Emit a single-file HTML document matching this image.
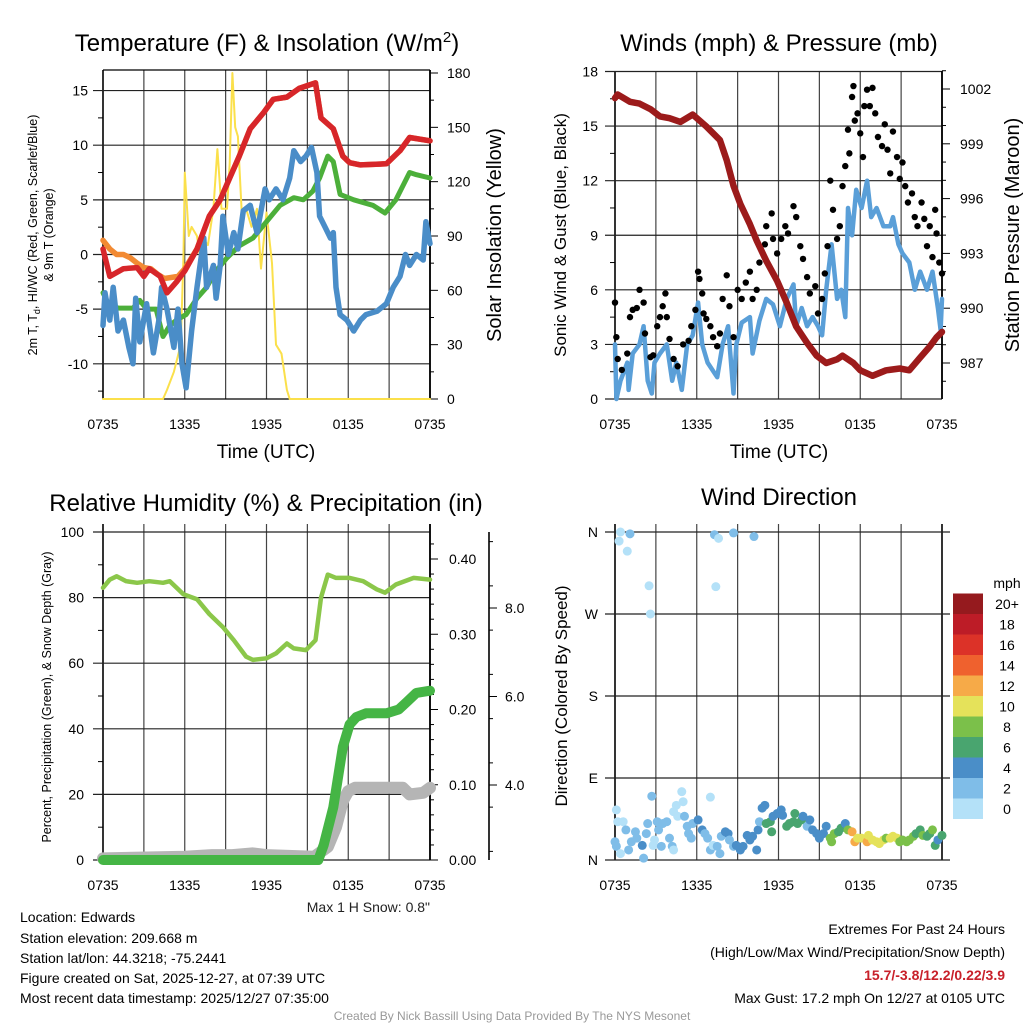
<!DOCTYPE html>
<html><head><meta charset="utf-8"><style>
html,body{margin:0;padding:0;background:#fff;}
svg{display:block;font-family:"Liberation Sans",Arial,sans-serif;}
</style></head><body>
<svg id="fig" width="1024" height="1024" viewBox="0 0 1024 1024" xmlns="http://www.w3.org/2000/svg">
<rect width="1024" height="1024" fill="#fff"/>
<text x="267" y="51" font-size="24" text-anchor="middle">Temperature (F) &amp; Insolation (W/m<tspan dy="-9" font-size="15">2</tspan><tspan dy="9">)</tspan></text>
<text x="779" y="51" font-size="24" text-anchor="middle">Winds (mph) &amp; Pressure (mb)</text>
<text x="266" y="511" font-size="24" text-anchor="middle">Relative Humidity (%) &amp; Precipitation (in)</text>
<text x="779" y="505" font-size="24" text-anchor="middle">Wind Direction</text>
<g id="p1"></g>
<g id="p2"></g>
<g id="p3"></g>
<g id="p4"></g>
<text x="266" y="458" font-size="19" text-anchor="middle">Time (UTC)</text>
<text x="779" y="458" font-size="19" text-anchor="middle">Time (UTC)</text>
<text transform="translate(37,235) rotate(-90)" font-size="12.5" text-anchor="middle">2m T, T<tspan font-size="9" dy="3">d</tspan><tspan dy="-3">, HI/WC (Red, Green, Scarlet/Blue)</tspan></text>
<text transform="translate(53,235) rotate(-90)" font-size="12.5" text-anchor="middle">&amp; 9m T (Orange)</text>
<text transform="translate(501,235) rotate(-90)" font-size="20" text-anchor="middle">Solar Insolation (Yellow)</text>
<text transform="translate(566,235) rotate(-90)" font-size="17" text-anchor="middle">Sonic Wind &amp; Gust (Blue, Black)</text>
<text transform="translate(1019,235) rotate(-90)" font-size="20" text-anchor="middle">Station Pressure (Maroon)</text>
<text transform="translate(51,697) rotate(-90)" font-size="12.5" text-anchor="middle">Percent, Precipitation (Green), &amp; Snow Depth (Gray)</text>
<text transform="translate(567,696) rotate(-90)" font-size="17" text-anchor="middle">Direction (Colored By Speed)</text>
<text x="430" y="912" font-size="14" text-anchor="end" fill="#222">Max 1 H Snow: 0.8"</text>
<g font-size="14" fill="#000">
<text x="20" y="922">Location: Edwards</text>
<text x="20" y="943">Station elevation: 209.668 m</text>
<text x="20" y="963">Station lat/lon: 44.3218; -75.2441</text>
<text x="20" y="983">Figure created on Sat, 2025-12-27, at 07:39 UTC</text>
<text x="20" y="1003">Most recent data timestamp: 2025/12/27 07:35:00</text>
</g>
<g font-size="14" text-anchor="end">
<text x="1005" y="934">Extremes For Past 24 Hours</text>
<text x="1005" y="957">(High/Low/Max Wind/Precipitation/Snow Depth)</text>
<text x="1005" y="980" fill="#c8202a" font-weight="bold">15.7/-3.8/12.2/0.22/3.9</text>
<text x="1005" y="1003">Max Gust: 17.2 mph On 12/27 at 0105 UTC</text>
</g>
<text x="512" y="1020" font-size="12" fill="#999" text-anchor="middle">Created By Nick Bassill Using Data Provided By The NYS Mesonet</text>
</svg>
<script>
// ---- Panel 1 data ----
const tRedH=[0,0.5,1.5,2.5,3,3.4,4.2,4.7,5.4,6,6.9,7.8,8.6,9.3,10,10.8,11.8,12.5,13.5,14.4,15.6,16,16.9,17.6,18.1,18.9,20.8,21.8,22.5,24];
const tRedV=[0.5,-2,-1.3,-1.2,-2,-1.3,-2,-3.5,-2.5,-1.5,0.5,3.5,5,7,9,11.5,13,14.2,14.4,15.2,15.7,12.5,11.5,9,8.4,8.2,8.3,9.5,10.7,10.4];
const tOrH=[0,0.5,1,1.5,2,2.5,3,3.5,4,4.5,5,5.5,6,6.9,7.8,8.6,9.3,10,10.8,11.8,12.5,13.5,14.4,15.6,16,16.9,17.6,18.1,18.9,20.8,21.8,22.5,24];
const tOrV=[1.3,0.5,0,0,-0.3,-0.8,-1.2,-1.3,-1.8,-2.2,-2.1,-2,-1.3,0.5,3.5,5,7,9,11.5,13,14.2,14.4,15.2,15.7,12.5,11.5,9,8.4,8.2,8.3,9.5,10.7,10.4];
const tdH=[0,0.5,1.2,2.2,2.7,3.2,3.9,4.4,4.9,5.4,6.1,6.9,7.6,8.3,9.1,10,11,12,13,14,14.7,15.4,15.9,16.5,16.9,17.4,18.4,19.8,20.7,21.5,22.5,23,24];
const tdV=[-3.5,-4.8,-4.9,-4.9,-4.2,-5,-5,-7.5,-6.5,-6,-5.5,-4,-3,-1.5,-0.3,0.8,1.5,3,4.5,5.2,5,5.8,7,9,8.5,5.5,5,4.5,3.8,5,7.5,7.3,7];
const wcH=[0,0.15,0.5,0.75,1.1,1.5,1.9,2.2,2.4,2.7,3.2,3.7,4.1,4.3,4.7,5.2,5.5,5.8,6.1,6.5,6.9,7.4,7.6,8.1,8.3,8.6,8.8,9.2,9.6,9.9,10.3,10.8,11.3,11.9,12.2,12.7,13.2,13.7,14,14.5,14.9,15.3,15.7,15.9,16.3,16.7,16.9,17.1,17.4,17.9,18.4,18.9,19.3,20.1,20.8,21.3,21.8,22.2,22.5,23,23.5,23.7,24];
const wcV=[-6.5,-3.5,-6,-3,-7,-6,-8.5,-10,-4,-8,-4.5,-9,-6,-3,-5,-8.5,-5,-10,-12.2,-7,-3,1.5,-3,-1,-4,-1,3.5,0,2,0.5,4,4.5,2,6,5,6,5,7,9.5,8.5,9,9.8,7.5,3.5,2.5,1.5,2,-3,-5.5,-6,-7,-6,-5.5,-5.2,-4.5,-3,-2,0,-1,0,-0.5,3,1];
const solH=[0,4.4,4.7,5.2,5.7,5.9,6.0,6.3,6.5,6.9,7.1,7.4,7.7,8.1,8.4,8.7,9.1,9.3,9.5,9.7,9.9,10.2,10.5,10.9,11.3,11.6,12,12.4,12.7,13.1,13.5,13.7,24];
const solV=[0,0,5,15,30,77,125,90,95,90,80,88,85,105,138,105,105,130,180,150,145,100,105,95,105,72,103,75,30,25,5,0,0];
const tempTicks=[15,10,5,0,-5,-10];
const solTicks=[0,30,60,90,120,150,180];
const timeLabels=["0735","1335","1935","0135","0735"];
// ---- Panel 2 data ----
const windH=[0,0.1,0.4,0.9,1.0,1.3,1.8,2.1,2.4,2.7,2.9,3.3,3.8,4.2,4.5,4.9,5.3,5.7,6.1,6.4,6.8,7.5,7.9,8.3,8.7,8.9,9.3,9.9,10.1,10.6,11.1,11.6,12.1,12.6,13.1,13.3,13.7,14.1,14.5,14.9,15.2,15.5,15.9,16.3,16.6,16.9,17.1,17.4,17.7,18.1,18.5,18.8,19.2,19.7,20.2,20.4,20.8,21.1,21.6,22.0,22.4,22.9,23.3,23.7,23.9,24];
const windV=[3,0,1,2,0.5,2.5,3,4,1,0.3,2,2.5,3,1,2,0.5,3,3.5,5.3,3,2,1.2,3,4,0.3,3,4.2,4.5,2.5,4.3,5.5,5.2,4,5.5,6.3,4,5,4,4.5,4,3.5,6,8.5,5.5,6,4.5,10.5,9,11.5,10.5,12,10,10.5,9.5,9.5,10,8.5,8,7.5,6,7,6,7,5,3.8,5.5];
const gustH=[0,0.1,0.2,0.5,0.9,1.1,1.3,1.6,1.8,2.1,2.2,2.6,2.8,3.1,3.3,3.5,3.7,3.8,4.0,4.3,4.6,5.0,5.4,5.6,5.9,6.1,6.2,6.4,6.5,6.7,7.0,7.2,7.5,7.7,7.9,8.2,8.4,8.7,9.0,9.3,9.6,9.9,10.1,10.4,10.6,11.0,11.1,11.5,11.6,11.9,12.2,12.5,12.7,13.1,13.3,13.6,13.8,14.1,14.3,14.7,14.9,15.2,15.4,15.6,15.8,16.0,16.3,16.5,16.7,16.9,17.1,17.2,17.4,17.5,17.6,17.8,18.0,18.2,18.3,18.5,18.7,18.9,19.1,19.3,19.6,19.8,20.0,20.2,20.4,20.7,20.9,21.1,21.3,21.5,21.8,22.0,22.2,22.5,22.7,22.9,23.1,23.3,23.5,23.6,23.8,24.0];
const gustV=[5.3,3.4,2.2,1.6,2.5,4.5,4.9,5,6,5.3,3.6,2.3,2.4,4,4.5,5.1,5.8,4.5,3.3,2.2,1.8,3,3.2,4,4.9,7,6.6,5.8,4.7,4.4,4,3.4,2.9,3.6,5.5,6.8,5.1,3.4,6,5.5,6.4,7,5.5,6,7.5,8.5,9.5,10.2,8.8,8,8.8,9.5,9.1,10.6,10,8.4,7.7,6.7,5.8,6.2,4.7,5.5,6.9,8.4,12,10.4,8.8,9.5,11.7,12.8,14.8,13.5,16.6,17.2,15.3,15.7,14.6,13.3,16.1,17,16.1,17.1,15.7,14.4,13.9,15.1,13.7,12.4,14.7,13.3,12.1,13,11.7,10.8,11.3,10,9.5,10.8,9.9,8.4,9.5,7.8,10.4,9.1,7.5,6.9];
const presH=[0,0.2,1.1,1.8,2.6,3.3,4.0,4.8,5.7,6.7,7.7,8.2,8.7,9.2,9.9,10.4,11.1,11.9,12.6,13.3,14.1,14.8,15.5,16.3,16.7,17.5,18.0,18.9,19.9,20.9,21.6,22.4,23.1,23.6,24];
const presV=[1001.5,1001.7,1001.3,1001.2,1000.9,1000.5,1000.4,1000.2,1000.6,999.95,999.2,998.1,996.7,995.7,994.6,993.7,992.6,991.5,990.3,989,988.1,987.4,987,987.2,987.4,987,986.6,986.3,986.6,986.7,986.6,987.3,987.9,988.4,988.7];
const windTicks=[0,3,6,9,12,15,18];
const presTicks=[987,990,993,996,999,1002];
// ---- Panel 3 data ----
const rhH=[0,0.5,1,1.7,2.5,3.4,4.4,4.9,5.9,6.9,7.8,8.8,9.6,10.5,11,12,12.7,13.5,14,14.9,15.6,16,16.5,17.1,18.1,19.1,20.1,20.7,21.5,22.8,24];
const rhV=[83,85.5,86.5,85,84.5,85,84.5,85,81,79.5,75,71,67,62,61,61.5,63,66,64.5,64,67,80,87,86,86,85,82.5,81.5,84,86,85.5];
const prH=[0,15.8,16.2,16.9,17.6,18.1,18.6,19.3,20.8,21.7,22.3,23,24];
const prV=[0,0,0.02,0.07,0.15,0.18,0.19,0.195,0.195,0.2,0.21,0.222,0.225];
const snH=[0,6,8,9.5,11,12,15.5,16.5,17.1,17.6,18,18.5,20,22,22.5,23.5,24];
const snV=[0.5,1,1.5,1.5,2,1.5,1,4,10,18,21,22,22,22,20,20.5,22];
const pctTicks=[0,20,40,60,80,100];
const prTicks=["0.00","0.10","0.20","0.30","0.40"];
const snTicks=["4.0","6.0","8.0"];
// ---- Panel 4 data ----
const dirH=[0.4,0.3,1.1,0.9,2.5,2.6,7.3,7.6,8.7,10.2,7.4,0.1,0.2,0.6,0.0,0.1,0.4,0.8,1.0,1.2,1.5,1.6,2.0,2.1,2.3,2.4,2.7,2.8,2.9,3.1,3.2,3.4,3.5,3.8,4.0,4.2,4.3,4.3,4.5,4.6,4.9,5.0,5.1,5.3,5.4,5.6,5.7,6.1,6.4,6.6,6.8,7.0,7.0,7.2,7.5,7.7,7.8,8.1,8.3,8.4,8.7,8.9,9.2,9.4,9.7,9.9,10.1,10.4,10.5,10.6,10.8,11.0,11.1,11.4,11.5,11.6,11.9,12.2,12.3,12.6,12.8,13.1,13.2,13.4,13.7,13.8,14.1,14.3,14.5,14.8,15.0,15.3,15.5,15.8,15.9,16.1,16.4,16.6,16.9,17.1,17.4,17.6,17.8,18.1,18.5,18.6,18.9,19.2,19.4,19.7,19.9,20.2,20.4,20.7,20.9,21.1,21.4,21.6,21.9,22.1,22.4,22.6,22.9,23.1,23.3,23.5,23.7,24.0];
const dirV=[360,350,358,339,301,270,357,353,359,355,300,55,42,42,20,15,7,33,11,20,31,24,16,2,29,40,70,16,22,42,33,15,40,42,24,15,11,53,60,48,75,64,48,37,29,24,40,44,33,29,24,11,69,16,15,7,26,31,29,22,15,16,11,15,27,22,26,11,33,42,57,60,40,42,31,48,51,55,49,37,40,42,51,40,44,48,37,44,33,29,24,29,37,24,20,29,31,35,40,33,31,20,24,24,20,27,22,20,18,22,24,24,26,24,20,22,20,22,26,29,33,27,26,29,33,16,22,27];
const dirSpd=[1,1,3,1,1,1,3,1,3,3,1,1,1,1,3,3,1,3,3,3,3,3,5,3,3,3,3,1,1,3,3,3,3,3,3,3,1,1,1,1,1,1,3,3,3,3,3,5,5,3,3,3,1,1,3,3,3,5,5,3,3,5,5,5,5,5,5,5,5,3,5,5,7,7,7,5,5,5,5,7,7,7,7,7,7,5,3,5,5,5,5,5,5,9,9,9,7,7,5,9,13,13,11,11,13,11,11,11,11,11,9,11,11,11,9,9,9,9,9,7,7,9,7,7,9,7,5,7];
const barLabels=["0","2","4","6","8","10","12","14","16","18","20+"];
const barColors=["#b4e1f8","#7fbde8","#4a8ec8","#49a56f","#7bc04a","#e5e25a","#f6aa48","#ef612e","#dc3228","#bd1c27","#951a1e"];

const NS="http://www.w3.org/2000/svg";
function mk(parent,tag,attrs){const e=document.createElementNS(NS,tag);for(const k in attrs)e.setAttribute(k,attrs[k]);parent.appendChild(e);return e;}
function lin(d0,d1,r0,r1){return v=>r0+(v-d0)*(r1-r0)/(d1-d0);}
function pathD(hs,vs,sx,sy){return hs.map((h,i)=>(i?"L":"M")+sx(h).toFixed(1)+","+sy(vs[i]).toFixed(1)).join("");}

function frame(g,x0,x1,y0,y1,sx,opts){
  for(let h=0;h<=24;h+=3){const x=sx(h);const gl=mk(g,"line",{x1:x,x2:x,y1:y0-(opts.topExt||0),y2:y1,stroke:(h===0||h===24)?"#000":"#444","stroke-width":(h===0||h===24)?1.6:1.2});
    
    
    if(h%6===0){const t=mk(g,"text",{x:x,y:y1+30,"font-size":14,"text-anchor":"middle"});t.textContent=timeLabels[h/6];
      
      }
  }
}
function hgrid(g,x0,x1,y,labelText,lx){
  const l=mk(g,"line",{x1:x0-10,x2:x1,y1:y,y2:y,stroke:"#222","stroke-width":1.2});
  
  
  const t=mk(g,"text",{x:lx,y:y+5,"font-size":14,"text-anchor":"end"});t.textContent=labelText;
  
  
}
function rtick(g,x,y,labelText,len,lx){
  const l=mk(g,"line",{x1:x,x2:x+len,y1:y,y2:y,stroke:"#000","stroke-width":1});
  
  
  if(labelText!==null){const t=mk(g,"text",{x:lx,y:y+5,"font-size":14,"text-anchor":"start"});t.textContent=labelText;
    
    }
}
function line(g,hs,vs,sx,sy,color,w,name){
  const p=mk(g,"path",{d:pathD(hs,vs,sx,sy),fill:"none",stroke:color,"stroke-width":w,"stroke-linejoin":"round","stroke-linecap":"round"});
  
  
}

// ===== Panel 1 =====
(function(){
  const g=document.getElementById("p1");
  const x0=103,x1=430,y0=70,y1=399;
  const sx=lin(0,24,x0,x1), sy=lin(0,-10,254.5,363.8), sr=lin(0,180,399,73);
  frame(g,x0,x1,y0,y1,sx,{topExt:0});
  tempTicks.forEach(v=>hgrid(g,x0,x1,sy(v),String(v),88));
  for(let v=-12.5;v<=15;v+=2.5){if(v%5!==0){const l=mk(g,"line",{x1:x0-5,x2:x0,y1:sy(v),y2:sy(v),stroke:"#000"});}}
  mk(g,"line",{x1:x0,x2:x1,y1:y0,y2:y0,stroke:"#000","stroke-width":1.2});
  mk(g,"line",{x1:x0,x2:x1,y1:y1,y2:y1,stroke:"#000","stroke-width":1.2});
  mk(g,"line",{x1:x1,x2:x1,y1:y0,y2:y1,stroke:"#000","stroke-width":1.6});
  solTicks.forEach(v=>rtick(g,x1,sr(v),String(v),8,447));
  for(let v=15;v<180;v+=30)rtick(g,x1,sr(v),null,4,0);
  line(g,solH,solV,sx,sr,"#fbe04b",2,"solar-line");
  line(g,tOrH,tOrV,sx,sy,"#f28a33",5.5,"temp-9m-line");
  line(g,tdH,tdV,sx,sy,"#4caf3a",5,"dewpoint-line");
  line(g,wcH,wcV,sx,sy,"#4a8dc8",5.5,"windchill-line");
  line(g,tRedH,tRedV,sx,sy,"#d7262a",5.5,"temp-2m-line");
})();

// ===== Panel 2 =====
(function(){
  const g=document.getElementById("p2");
  const x0=615,x1=942,y0=71,y1=399;
  const sx=lin(0,24,x0,x1), sy=lin(0,18,399,71.5), sp=lin(987,1002,363,89);
  frame(g,x0,x1,y0,y1,sx,{});
  windTicks.forEach(v=>hgrid(g,x0,x1,sy(v),String(v),598));
  for(let v=1.5;v<18;v+=3){const l=mk(g,"line",{x1:x0-5,x2:x0,y1:sy(v),y2:sy(v),stroke:"#000"});}
  mk(g,"line",{x1:x1,x2:x1,y1:y0,y2:y1,stroke:"#000","stroke-width":1.6});
  presTicks.forEach(v=>rtick(g,x1,sp(v),String(v),8,960));
  for(let v=986;v<=1003;v+=1){if((v-987)%3!==0)rtick(g,x1,sp(v),null,4,0);}
  line(g,windH,windV,sx,sy,"#5a9fd8",4.5,"sonic-wind-line");
  gustH.forEach((h,i)=>{const c=mk(g,"circle",{cx:sx(h),cy:sy(gustV[i]),r:3.2,fill:"#000"});
    
    });
  line(g,presH,presV,sx,sp,"#9c1b1b",6.5,"pressure-line");
})();

// ===== Panel 3 =====
(function(){
  const g=document.getElementById("p3");
  const x0=103,x1=430,y0=532,y1=860;
  const sx=lin(0,24,x0,x1), sy=lin(0,100,860,532), spr=lin(0,0.4,860,559);
  frame(g,x0,x1,y0,y1,sx,{topExt:8});
  pctTicks.forEach(v=>hgrid(g,x0,x1,sy(v),String(v),84));
  for(let v=10;v<100;v+=20){const l=mk(g,"line",{x1:x0-5,x2:x0,y1:sy(v),y2:sy(v),stroke:"#000"});}
  mk(g,"line",{x1:x1,x2:x1,y1:y0-8,y2:y1,stroke:"#000","stroke-width":1.6});
  prTicks.forEach(s=>rtick(g,x1,spr(parseFloat(s)),s,8,449));
  for(let v=0.02;v<0.44;v+=0.02){if(Math.round(v*100)%10!==0)rtick(g,x1,spr(v),null,4,0);}
  const fx=489, ss=lin(4,8,785,608);
  const ax=mk(g,"line",{x1:fx,x2:fx,y1:532,y2:860,stroke:"#000","stroke-width":1.6});
  
  snTicks.forEach(s=>rtick(g,fx,ss(parseFloat(s)),s,8,505));
  for(let v=2.5;v<=9.5;v+=1){rtick(g,fx,ss(v),null,4,0);}
  line(g,snH,snV,sx,sy,"#b5b5b5",12,"snow-depth-line");
  line(g,prH,prV,sx,spr,"#45b545",10,"precip-line");
  line(g,rhH,rhV,sx,sy,"#8bc74a",4.5,"humidity-line");
})();

// ===== Panel 4 =====
(function(){
  const g=document.getElementById("p4");
  const x0=615,x1=942,y0=532,y1=860;
  const sx=lin(0,24,x0,x1), sy=lin(0,360,860,532);
  frame(g,x0,x1,y0,y1,sx,{topExt:8});
  ["N","E","S","W","N"].forEach((s,i)=>hgrid(g,x0,x1+8,sy(i*90),s,598));
  dirH.forEach((h,i)=>{const bin=Math.min(10,Math.floor(dirSpd[i]/2));
    const c=mk(g,"circle",{cx:sx(h),cy:sy(dirV[i]),r:4.5,fill:barColors[bin]});
    
    });
  const bx=953,bw=30,by1=819,bh=20.5;
  barLabels.forEach((s,i)=>{const r=mk(g,"rect",{x:bx,y:by1-(i+1)*bh,width:bw,height:bh,fill:barColors[i]});
    
    
    const t=mk(g,"text",{x:1007,y:by1-(i+0.5)*bh+5,"font-size":14,"text-anchor":"middle"});t.textContent=s;
    
    });
  const u=mk(g,"text",{x:1007,y:588,"font-size":14,"text-anchor":"middle"});u.textContent="mph";
  
  
})();
</script>
</body></html>
